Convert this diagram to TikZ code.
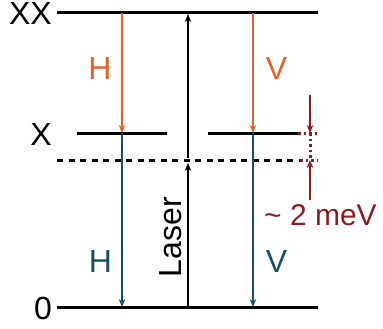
\documentclass[tikz,border=0pt]{standalone}
\usepackage{fontspec}
\setmainfont{Liberation Sans}
\usetikzlibrary{arrows.meta}
\definecolor{lvOrange}{RGB}{232, 96, 40}
\definecolor{lvTeal}  {RGB}{ 22, 82,100}
\definecolor{lvRed}   {RGB}{140, 28, 30}

\begin{document}
\begin{tikzpicture}[
  x=1pt,y=-1pt,
  every node/.style={font=\fontsize{32}{34}\selectfont,inner sep=0pt},
  >={Stealth[length=8pt,width=6.5pt]},
  level/.style={line width=3pt},
  emis/.style={->,line width=1.2pt},
  gap/.style={lvRed,line width=1.4pt},
  lvl/.style={anchor=east},
  pol/.style={anchor=base}
]
\useasboundingbox (0,0) rectangle (383,329);

% levels
\coordinate (XXl) at (57,13);   \coordinate (XXr) at (318,13);
\coordinate (Xla) at (77,133);  \coordinate (Xlb) at (167,133);
\coordinate (Xra) at (208,133); \coordinate (Xrb) at (298,133);
\coordinate (Dl)  at (57,160);  \coordinate (Dr)  at (300,160);
\coordinate (Gl)  at (57,307);  \coordinate (Gr)  at (318,307);

\draw[level] (XXl) -- (XXr);
\draw[level] (Xla) -- (Xlb);
\draw[level] (Xra) -- (Xrb);
\draw[level,dash pattern=on 6pt off 5.5pt] (Dl) -- (Dr);
\draw[level] (Gl) -- (Gr);

\node[lvl] (lXX) at (52,13.5) {XX};
\node[lvl] (lX)  at (52,134)  {X};
\node[lvl] (l0)  at (52,308)  {0};

% emission cascade
\coordinate (hT) at (122,13);  \coordinate (hM) at (122,133); \coordinate (hB) at (122,307);
\coordinate (vT) at (253,13);  \coordinate (vM) at (253,133); \coordinate (vB) at (253,307);
\draw[emis,lvOrange] (hT) -- (hM);
\draw[emis,lvOrange] (vT) -- (vM);
\draw[emis,lvTeal]   (hM) -- (hB);
\draw[emis,lvTeal]   (vM) -- (vB);
\node[pol,lvOrange] (hXX) at (100,80)   {H};
\node[pol,lvOrange] (vXX) at (276.5,80) {V};
\node[pol,lvTeal]   (hX)  at (100.5,272){H};
\node[pol,lvTeal]   (vX)  at (276.5,272){V};

% laser
\coordinate (L0) at (188,307); \coordinate (L1) at (188,163);
\coordinate (L2) at (188,158); \coordinate (L3) at (188,14);
\draw[->,line width=1.6pt] (L0) -- (L1);
\draw[->,line width=1.6pt] (L2) -- (L3);
\node[rotate=90,anchor=base] (las) at (181,237) {Laser};

% binding energy
\coordinate (Ba) at (298,133); \coordinate (Bb) at (318,133);
\coordinate (Bc) at (300,160); \coordinate (Bd) at (318,160);
\coordinate (Bt) at (310,95);  \coordinate (Bm) at (310,133);
\coordinate (Bn) at (310,160); \coordinate (Bu) at (310,200);
\draw[gap,line width=3pt,dash pattern=on 2.5pt off 3pt] (Ba) -- (Bb);
\draw[gap,line width=3pt,dash pattern=on 2.5pt off 3pt] (Bc) -- (Bd);
\draw[gap,line width=3pt,dash pattern=on 2.5pt off 3pt] (Bm) -- (Bn);
\draw[gap,->] (Bt) -- (Bm);
\draw[gap,->] (Bu) -- (Bn);
\node[lvRed,anchor=base west,font=\fontsize{30}{32}\selectfont] (meV) at (264,225) {\textasciitilde{} 2 meV};
\end{tikzpicture}
\end{document}
